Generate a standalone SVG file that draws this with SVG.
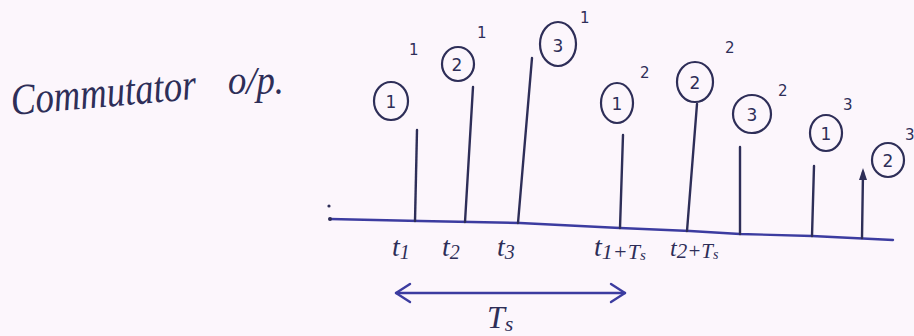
<svg xmlns="http://www.w3.org/2000/svg" width="914" height="336" viewBox="0 0 914 336">
<style>
.ink{fill:none;stroke:#2e2e58;stroke-width:2.4;stroke-linecap:round}
.ring{fill:none;stroke:#2e2e58;stroke-width:2.2}
.num{font-family:"DejaVu Sans",sans-serif;font-size:17px;fill:#2e2e58;text-anchor:middle}
.sup{font-family:"DejaVu Sans",sans-serif;font-size:15px;fill:#2e2e58}
.hand{font-family:"Liberation Serif",serif;font-style:italic;fill:#2e2e58}
.axis{fill:none;stroke:#3c3ca0;stroke-width:2.4;stroke-linecap:round;stroke-linejoin:round}
</style>
<rect width="914" height="336" fill="#fcf6fc"/>
<g id="title">
<text class="hand" x="12" y="115" font-size="44" textLength="186" lengthAdjust="spacingAndGlyphs" transform="rotate(-5 12 115)">Commutator</text>
<text class="hand" x="228" y="94" font-size="40" textLength="56" lengthAdjust="spacingAndGlyphs">o/p.</text>
</g>
<g id="connectors">
<polyline class="axis" points="330,219 420,221 520,223 620,228 690,231 740,234 812,236 893,240"/>
<circle cx="329" cy="206" r="1.6" fill="#2e2e58"/>
<circle cx="330" cy="219" r="2" fill="#2e2e58"/>
<line class="axis" x1="396" y1="293" x2="625" y2="293"/>
<polyline class="axis" points="410,284 396,293 410,302"/>
<polyline class="axis" points="611,284 625,293 611,302"/>
</g>
<g id="s1-1">
<line class="ink" x1="415" y1="221" x2="417" y2="130"/>
<ellipse class="ring" cx="391" cy="101" rx="17" ry="19"/>
<text class="num" x="391" y="108">1</text>
<text class="sup" x="409" y="55">1</text>
</g>
<g id="s2-1">
<line class="ink" x1="465" y1="222" x2="473" y2="87"/>
<ellipse class="ring" cx="458" cy="64" rx="16" ry="17"/>
<text class="num" x="457" y="71">2</text>
<text class="sup" x="477" y="38">1</text>
</g>
<g id="s3-1">
<line class="ink" x1="518" y1="223" x2="532" y2="58"/>
<ellipse class="ring" cx="558" cy="44" rx="18" ry="22"/>
<text class="num" x="558" y="52">3</text>
<text class="sup" x="580" y="23">1</text>
</g>
<g id="s1-2">
<line class="ink" x1="620" y1="228" x2="623" y2="135"/>
<ellipse class="ring" cx="617" cy="103" rx="16" ry="20"/>
<text class="num" x="617" y="110">1</text>
<text class="sup" x="640" y="78">2</text>
</g>
<g id="s2-2">
<line class="ink" x1="687" y1="231" x2="697" y2="104"/>
<ellipse class="ring" cx="695" cy="82" rx="18" ry="20"/>
<text class="num" x="695" y="89">2</text>
<text class="sup" x="725" y="53">2</text>
</g>
<g id="s3-2">
<line class="ink" x1="740" y1="234" x2="740" y2="147"/>
<ellipse class="ring" cx="752" cy="114" rx="19" ry="19"/>
<text class="num" x="752" y="121">3</text>
<text class="sup" x="778" y="96">2</text>
</g>
<g id="s1-3">
<line class="ink" x1="812" y1="236" x2="814" y2="166"/>
<ellipse class="ring" cx="826" cy="133" rx="16" ry="18"/>
<text class="num" x="826" y="140">1</text>
<text class="sup" x="843" y="110">3</text>
</g>
<g id="s2-3">
<line class="ink" x1="862" y1="238" x2="863" y2="172"/>
<polygon points="863,168 859,180 867,180" fill="#2e2e58"/>
<ellipse class="ring" cx="888" cy="160" rx="16" ry="17"/>
<text class="num" x="888" y="167">2</text>
<text class="sup" x="905" y="140">3</text>
</g>
<g id="labels">
<text class="hand" x="392" y="256" font-size="28">t<tspan font-size="20" dy="3">1</tspan></text>
<text class="hand" x="442" y="256" font-size="28">t<tspan font-size="20" dy="3">2</tspan></text>
<text class="hand" x="497" y="256" font-size="28">t<tspan font-size="20" dy="3">3</tspan></text>
<text class="hand" x="594" y="256" font-size="28">t<tspan font-size="22" dy="3">1+T</tspan><tspan font-size="15" dy="1">s</tspan></text>
<text class="hand" x="670" y="256" font-size="24">t<tspan font-size="21" dy="2">2+T</tspan><tspan font-size="14" dy="1">s</tspan></text>
<text class="hand" x="487" y="328" font-size="32">T<tspan font-size="22" dy="3">s</tspan></text>
</g>
</svg>
